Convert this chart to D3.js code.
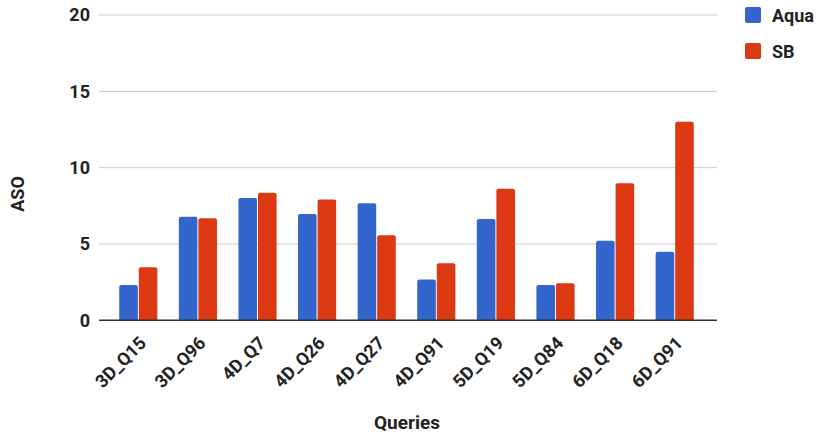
<!DOCTYPE html>
<html>
<head>
<meta charset="utf-8">
<script src="https://cdn.jsdelivr.net/npm/d3@7"></script>
<style>
  html, body { margin: 0; padding: 0; background: #fff; }
  svg text { font-family: Roboto, "Noto Sans", sans-serif; font-weight: bold; fill: #222; }
</style>
</head>
<body>
<svg id="chart" width="819" height="436"></svg>
<script>
const categories = ["3D_Q15", "3D_Q96", "4D_Q7", "4D_Q26", "4D_Q27", "4D_Q91", "5D_Q19", "5D_Q84", "6D_Q18", "6D_Q91"];
const seriesNames = ["Aqua", "SB"];
const aquaValues = [2.31, 6.78, 8.01, 6.96, 7.66, 2.68, 6.63, 2.31, 5.21, 4.49];
const sbValues = [3.47, 6.68, 8.36, 7.92, 5.57, 3.73, 8.62, 2.42, 8.97, 13.0];
const yTicks = [0, 5, 10, 15, 20];
const colors = ["#3366cc", "#dc3912"];

const svg = d3.select("#chart");
const plotLeft = 99, plotRight = 717, plotTop = 15, plotBottom = 320.3;

const x = d3.scaleBand()
  .domain(categories)
  .range([108.5, 704.5])
  .paddingInner(0.36)
  .paddingOuter(0.18);

const xInner = d3.scaleBand()
  .domain(seriesNames)
  .range([0, x.bandwidth()])
  .paddingInner(0.05);

const y = d3.scaleLinear().domain([0, 20]).range([plotBottom, plotTop]);

// Horizontal gridlines
svg.append("g")
  .selectAll("line")
  .data(yTicks.filter(d => d !== 0))
  .join("line")
  .attr("x1", plotLeft).attr("x2", plotRight)
  .attr("y1", d => y(d)).attr("y2", d => y(d))
  .attr("stroke", "#cccccc").attr("stroke-width", 1);

// Y axis labels
const yAxis = d3.axisLeft(y).tickValues(yTicks).tickSize(0).tickPadding(9);
svg.append("g")
  .attr("transform", `translate(${plotLeft},0)`)
  .call(yAxis)
  .call(g => g.select(".domain").remove())
  .call(g => g.selectAll("text").attr("font-size", 18).attr("fill", "#222"));

// Bars
const rows = categories.map((c, i) => ({ cat: c, vals: [aquaValues[i], sbValues[i]] }));
const groups = svg.append("g")
  .selectAll("g")
  .data(rows)
  .join("g")
  .attr("transform", d => `translate(${x(d.cat)},0)`);

groups.selectAll("path")
  .data(d => d.vals.map((v, k) => ({ name: seriesNames[k], value: v, k })))
  .join("path")
  .attr("fill", d => colors[d.k])
  .attr("d", d => {
    const x0 = xInner(d.name), w = xInner.bandwidth();
    const yt = y(d.value), yb = y(0), r = 2;
    return `M${x0},${yb}V${yt + r}Q${x0},${yt} ${x0 + r},${yt}H${x0 + w - r}Q${x0 + w},${yt} ${x0 + w},${yt + r}V${yb}Z`;
  });

// Baseline
svg.append("line")
  .attr("x1", plotLeft).attr("x2", plotRight)
  .attr("y1", y(0)).attr("y2", y(0))
  .attr("stroke", "#333").attr("stroke-width", 1.5);

// X axis labels, slanted
const xAxis = d3.axisBottom(x).tickSize(0).tickPadding(0);
svg.append("g")
  .attr("transform", `translate(0,${plotBottom})`)
  .call(xAxis)
  .call(g => g.select(".domain").remove())
  .call(g => g.selectAll("text")
    .attr("font-size", 18)
    .attr("text-anchor", "end")
    .attr("dy", 0)
    .attr("transform", "translate(9,24) rotate(-45)"));

// Axis titles
svg.append("text")
  .attr("transform", "translate(24,194) rotate(-90)")
  .attr("text-anchor", "middle")
  .attr("font-size", 18)
  .text("ASO");

svg.append("text")
  .attr("x", 407).attr("y", 429)
  .attr("text-anchor", "middle")
  .attr("font-size", 19)
  .text("Queries");

// Legend
const legend = svg.append("g")
  .selectAll("g")
  .data(seriesNames)
  .join("g")
  .attr("transform", (d, i) => `translate(745,${7 + i * 36})`);
legend.append("rect")
  .attr("width", 16).attr("height", 16).attr("rx", 2)
  .attr("fill", (d, i) => colors[i]);
legend.append("text")
  .attr("x", 27).attr("y", 15)
  .attr("font-size", 18)
  .text(d => d);
</script>
</body>
</html>
